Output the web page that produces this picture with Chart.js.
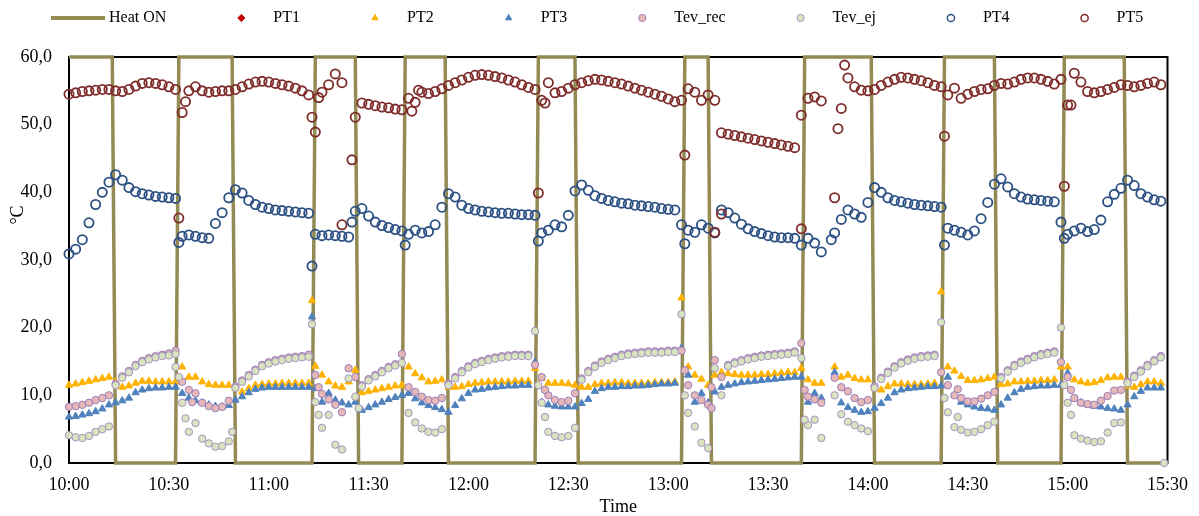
<!DOCTYPE html>
<html>
<head>
<meta charset="utf-8">
<script src="https://cdn.jsdelivr.net/npm/chart.js@4.4.1/dist/chart.umd.min.js"></script>
<style>
  html, body { margin: 0; padding: 0; background: #fff; }
  #wrap { width: 1199px; height: 516px; }
</style>
</head>
<body>
<div id="wrap"><canvas id="chart" width="1199" height="516"></canvas></div>
<script>

// DATA (minutes after 10:00, sampled every 2 min + a few odd readings)

const minutes = [
    0, 2, 4, 6, 8, 10, 12, 14, 16, 18,
    20, 22, 24, 26, 28, 30, 32, 34, 36, 38,
    40, 42, 44, 46, 48, 50, 52, 54, 56, 58,
    60, 62, 64, 66, 68, 70, 72, 74, 76, 78,
    80, 82, 84, 86, 88, 90, 92, 94, 96, 98,
    100, 102, 104, 106, 108, 110, 112, 114, 116, 118,
    120, 122, 124, 126, 128, 130, 132, 134, 136, 138,
    140, 142, 144, 146, 148, 150, 152, 154, 156, 158,
    160, 162, 164, 166, 168, 170, 172, 174, 176, 178,
    180, 182, 184, 186, 188, 190, 192, 194, 196, 198,
    200, 202, 204, 206, 208, 210, 212, 214, 216, 218,
    220, 222, 224, 226, 228, 230, 232, 234, 236, 238,
    240, 242, 244, 246, 248, 250, 252, 254, 256, 258,
    260, 262, 264, 266, 268, 270, 272, 274, 276, 278,
    280, 282, 284, 286, 288, 290, 292, 294, 296, 298,
    300, 302, 304, 306, 308, 310, 312, 314, 316, 318,
    320, 322, 324, 326, 328
];

const timeLabels = ["10:00", "10:30", "11:00", "11:30", "12:00", "12:30",
                    "13:00", "13:30", "14:00", "14:30", "15:00", "15:30"];
const yLabels = ["0,0", "10,0", "20,0", "30,0", "40,0", "50,0", "60,0"];

// heater state (switch times)
const heatT = [0, 13, 14, 32, 33, 49, 50, 73, 74, 86, 87, 100, 101, 113, 114, 140, 141, 152,
               153, 184, 185, 192, 193, 220, 221, 241, 242, 262, 263, 278, 279, 298, 299, 317, 318, 329];
const heatV = [60, 60, 0, 0, 60, 60, 0, 0, 60, 60, 0, 0, 60, 60, 0, 0, 60, 60,
               0, 0, 60, 60, 0, 0, 60, 60, 0, 0, 60, 60, 0, 0, 60, 60, 0, 0];

const pt1 = [];

const pt2 = [
    11.5, 11.7, 11.9, 12.1, 12.3, 12.5, 12.7, 12.0, 11.2, 11.4,
    11.8, 12.1, 12.1, 12.0, 12.0, 12.0, 12.0, 14.2, 12.7, 12.7,
    12.0, 11.6, 11.5, 11.5, 11.5, 11.0, 10.5, 11.0, 11.5, 11.6,
    11.7, 11.7, 11.8, 11.8, 11.8, 11.8, 11.8, 14.3, 13.0, 12.0,
    11.4, 11.2, 12.0, 13.7, 10.4, 10.6, 10.8, 11.0, 11.2, 11.4,
    11.5, 14.2, 13.2, 12.6, 12.0, 12.1, 12.3, 11.2, 11.2, 11.3,
    11.6, 11.8, 11.9, 12.0, 12.0, 12.0, 12.0, 12.1, 12.1, 12.1,
    14.0, 12.5, 11.8, 11.8, 11.8, 11.7, 11.5, 11.2, 11.2, 11.6,
    11.8, 11.8, 11.9, 11.9, 11.8, 11.8, 11.8, 11.8, 11.9, 11.9,
    11.9, 12.0, 24.4, 14.2, 13.0, 12.4, 11.5, 13.0, 13.4, 13.2,
    13.1, 13.0, 13.0, 13.0, 13.1, 13.1, 13.2, 13.3, 13.4, 13.4,
    14.0, 12.3, 11.8, 11.8, null, 14.2, 12.7, 13.0, 12.5, 12.3,
    12.3, 11.0, 10.8, 11.3, 11.7, 11.7, 11.6, 11.6, 11.6, 11.7,
    11.8, 25.3, 14.2, 13.6, 12.8, 12.2, 12.2, 12.3, 12.5, 12.7,
    11.6, 11.7, 12.0, 12.0, 12.1, 12.1, 12.2, 12.2, 12.3, 14.2,
    14.2, 12.3, 12.0, 11.8, 11.9, 12.2, 12.6, 12.7, 12.7, 11.4,
    11.2, 11.6, 12.0, 12.0, 11.8
];
const pt2ExtraT = [73];
const pt2ExtraV = [24.0];

const pt3 = [
    6.8, 6.9, 7.1, 7.3, 7.6, 8.0, 8.6, 8.9, 9.2, 9.6,
    10.4, 10.8, 11.0, 11.1, 11.1, 11.2, 11.2, 10.3, 9.6, 9.2,
    8.9, 8.6, 8.4, 8.3, 8.5, 9.3, 9.8, 10.4, 10.9, 11.1,
    11.2, 11.2, 11.2, 11.2, 11.2, 11.2, 11.2, 11.0, 9.0, 10.3,
    9.3, 8.9, 8.6, 9.0, 7.8, 8.2, 8.6, 9.0, 9.4, 9.7,
    10.0, 10.3, 9.5, 8.9, 8.5, 8.2, 7.9, 7.5, 8.5, 9.5,
    10.3, 10.8, 10.9, 11.1, 11.2, 11.3, 11.4, 11.4, 11.5, 11.5,
    14.9, 9.0, 8.6, 8.4, 8.3, 8.3, 8.3, 8.8, 9.4, 10.6,
    11.0, 11.2, 11.2, 11.3, 11.3, 11.4, 11.4, 11.5, 11.6, 11.7,
    11.7, 11.8, 17.0, 13.0, 9.0, 10.3, 8.9, 10.5, 11.2, 11.5,
    11.7, 11.9, 12.0, 12.1, 12.2, 12.3, 12.4, 12.5, 12.6, 12.7,
    12.7, 9.0, 10.3, 9.6, null, 13.4, 8.9, 8.2, 7.8, 7.5,
    7.6, 8.1, 8.8, 9.6, 10.4, 10.8, 11.0, 11.1, 11.2, 11.3,
    11.3, 11.4, 12.7, 10.0, 9.0, 8.6, 8.3, 8.1, 8.0, 7.8,
    8.6, 9.6, 10.4, 10.9, 11.2, 11.3, 11.4, 11.4, 11.5, 11.5,
    13.3, 9.5, 8.9, 8.6, 8.4, 8.3, 8.1, 8.0, 7.8, 8.6,
    9.8, 10.6, 11.1, 11.1, 11.1
];
const pt3ExtraT = [73];
const pt3ExtraV = [21.6];

const tevRec = [
    8.3, 8.4, 8.6, 8.9, 9.3, 9.6, 10.0, 11.7, 12.8, 13.6,
    14.5, 15.1, 15.5, 15.8, 16.0, 16.2, 16.6, 12.0, 10.8, 10.3,
    8.9, 8.4, 8.1, 8.3, 9.2, 11.3, 12.2, 13.0, 13.8, 14.5,
    14.9, 15.2, 15.4, 15.6, 15.7, 15.8, 16.0, 13.0, 10.2, 9.4,
    8.6, 7.5, 14.0, 12.7, 11.5, 12.4, 13.0, 13.6, 14.2, 14.6,
    16.1, 11.2, 10.5, 9.8, 9.3, 9.2, 9.6, 11.7, 12.7, 13.6,
    14.3, 14.8, 15.1, 15.4, 15.6, 15.8, 15.9, 16.0, 16.0, 16.0,
    14.5, 12.7, 10.0, 9.3, 9.0, 9.2, 10.3, 12.5, 13.6, 14.4,
    15.0, 15.4, 15.7, 16.0, 16.2, 16.3, 16.4, 16.5, 16.5, 16.5,
    16.6, 16.6, 16.6, 11.5, 10.0, 9.3, 8.6, 15.2, 12.7, 14.5,
    14.9, 15.2, 15.5, 15.7, 15.9, 16.0, 16.1, 16.2, 16.3, 16.5,
    17.7, 9.8, 9.4, 8.9, null, 12.6, 11.2, 10.6, 9.6, 9.0,
    9.3, 11.3, 12.6, 13.5, 14.3, 14.9, 15.3, 15.6, 15.8, 15.9,
    16.0, 13.4, 11.5, 10.0, 9.6, 9.1, 9.1, 9.5, 10.0, 10.5,
    12.7, 13.7, 14.5, 15.0, 15.4, 15.8, 16.1, 16.3, 16.5, 14.9,
    12.7, 9.6, 8.9, 8.7, 8.6, 9.2, 9.9, 10.7, 10.8, 12.0,
    12.9, 13.7, 14.5, 15.2, 15.8
];
const tevRecExtraT = [37, 75, 143, 185, 193, 193, 221, 267, 301];
const tevRecExtraV = [9.0, 11.2, 10.8, 13.7, 8.1, 11.2, 10.8, 10.9, 10.8];

const tevEj = [
    4.1, 3.8, 3.7, 4.0, 4.6, 5.0, 5.4, 11.5, 12.6, 13.4,
    14.3, 14.9, 15.3, 15.6, 15.8, 15.9, 16.1, 8.9, 4.6, 5.9,
    3.6, 2.9, 2.4, 2.5, 3.2, 11.1, 12.0, 12.8, 13.6, 14.3,
    14.7, 15.0, 15.2, 15.4, 15.5, 15.6, 15.7, 9.0, 5.2, 7.1,
    2.7, 2.0, 12.5, 9.8, 11.3, 12.2, 12.8, 13.4, 14.0, 14.4,
    14.8, 7.4, 6.0, 5.1, 4.6, 4.5, 5.0, 11.5, 12.5, 13.4,
    14.1, 14.6, 14.9, 15.2, 15.4, 15.6, 15.7, 15.8, 15.8, 15.8,
    19.5, 8.9, 4.6, 4.0, 3.8, 4.0, 5.2, 12.3, 13.4, 14.2,
    14.8, 15.2, 15.5, 15.8, 16.0, 16.1, 16.2, 16.3, 16.3, 16.3,
    16.4, 16.4, 22.0, 7.4, 5.4, 3.0, 2.2, 14.0, 10.0, 14.3,
    14.7, 15.0, 15.3, 15.5, 15.7, 15.8, 15.9, 16.0, 16.1, 16.3,
    15.5, 5.6, 6.4, 3.7, null, 10.0, 7.2, 6.1, 5.6, 5.1,
    4.7, 11.1, 12.4, 13.3, 14.1, 14.7, 15.1, 15.4, 15.6, 15.7,
    15.8, 20.8, 7.5, 5.3, 4.9, 4.5, 4.6, 5.0, 5.6, 6.1,
    12.5, 13.5, 14.3, 14.8, 15.2, 15.6, 15.9, 16.1, 16.3, 20.0,
    8.9, 4.1, 3.6, 3.3, 3.1, 3.2, 4.5, 5.9, 6.0, 11.8,
    12.7, 13.5, 14.3, 15.0, 15.6
];
const tevEjExtraT = [32, 33, 35, 49, 73, 75, 87, 141, 143, 185, 221, 263, 267, 299, 301, 329];
const tevEjExtraV = [14.2, 12.7, 6.6, 4.6, 20.5, 7.1, 8.1, 11.5, 6.8, 10.0, 6.4, 9.6, 6.8, 11.5, 7.1, 0];

const pt4 = [
    30.9, 31.6, 33.0, 35.5, 38.2, 40.0, 41.5, 42.6, 41.8, 40.7,
    40.1, 39.8, 39.6, 39.4, 39.3, 39.2, 39.1, 33.5, 33.7, 33.5,
    33.3, 33.2, 35.4, 37.0, 39.2, 40.4, 39.9, 38.8, 38.2, 37.8,
    37.6, 37.4, 37.3, 37.2, 37.1, 37.0, 36.9, 33.8, 33.6, 33.7,
    33.6, 33.5, 33.4, 37.2, 37.6, 36.5, 35.6, 35.1, 34.8, 34.5,
    34.3, 33.8, 34.4, 34.0, 34.2, 35.2, 37.8, 39.8, 39.3, 38.1,
    37.6, 37.4, 37.2, 37.1, 37.0, 36.9, 36.9, 36.8, 36.7, 36.7,
    36.6, 34.0, 34.4, 35.2, 34.9, 36.6, 40.2, 41.1, 40.3, 39.5,
    39.1, 38.8, 38.6, 38.4, 38.3, 38.1, 38.0, 37.9, 37.8, 37.6,
    37.5, 37.4, 35.2, 34.4, 34.1, 35.2, 34.7, 34.0, 37.4, 37.0,
    36.2, 35.3, 34.6, 34.2, 33.9, 33.6, 33.4, 33.3, 33.3, 33.2,
    32.2, 33.2, 32.5, 31.2, null, 34.0, 36.0, 37.4, 36.8, 36.3,
    38.5, 40.7, 40.0, 39.2, 38.8, 38.6, 38.4, 38.2, 38.1, 38.0,
    37.9, 37.8, 34.7, 34.4, 34.1, 33.7, 34.3, 36.1, 38.5, 41.2,
    42.0, 40.8, 39.8, 39.3, 39.0, 38.9, 38.8, 38.7, 38.6, 35.6,
    33.8, 34.3, 34.7, 34.2, 34.5, 35.9, 38.6, 39.7, 40.6, 41.8,
    41.0, 39.8, 39.3, 38.9, 38.7
];
const pt4ExtraT = [33, 73, 85, 101, 141, 185, 229, 263, 299];
const pt4ExtraV = [32.6, 29.1, 35.6, 32.2, 32.8, 32.4, 33.0, 32.2, 33.2];

const pt5 = [
    54.5, 54.7, 54.9, 55.0, 55.1, 55.2, 55.2, 55.0, 54.9, 55.2,
    55.7, 56.1, 56.2, 56.1, 55.9, 55.6, 55.2, 51.8, 55.0, 55.6,
    55.0, 54.8, 54.9, 55.0, 55.0, 55.2, 55.6, 56.0, 56.3, 56.4,
    56.3, 56.1, 55.9, 55.7, 55.4, 55.0, 54.4, 48.9, 54.8, 55.9,
    57.5, 56.2, null, 51.1, 53.2, 53.0, 52.8, 52.6, 52.5, 52.3,
    52.2, 53.9, 53.3, 54.8, 54.6, 54.9, 55.3, 55.8, 56.2, 56.6,
    57.0, 57.3, 57.4, 57.3, 57.1, 56.9, 56.6, 56.3, 55.9, 55.5,
    55.2, 53.6, 56.2, 54.7, 54.9, 55.4, 55.9, 56.2, 56.5, 56.7,
    56.6, 56.4, 56.2, 56.0, 55.7, 55.4, 55.1, 54.8, 54.5, 54.2,
    53.8, 53.4, 53.6, 55.3, 54.8, 53.6, 54.4, 53.6, 48.8, 48.6,
    48.4, 48.2, 48.0, 47.8, 47.6, 47.4, 47.2, 47.0, 46.8, 46.6,
    51.4, 53.9, 54.1, 53.5, null, 39.2, 52.4, 56.9, 55.6, 55.1,
    55.0, 55.2, 55.8, 56.3, 56.7, 57.0, 56.9, 56.7, 56.5, 56.2,
    55.8, 55.6, 54.4, 55.4, 53.9, 54.5, 54.9, 55.2, 55.3, 55.8,
    56.1, 56.0, 56.3, 56.7, 56.9, 56.9, 56.7, 56.4, 56.0, 56.7,
    52.9, 57.6, 56.3, 54.9, 54.7, 54.9, 55.2, 55.5, 55.9, 55.8,
    55.6, 55.8, 56.1, 56.3, 55.9
];
const pt5ExtraT = [33, 35, 73, 75, 82, 85, 103, 105, 141, 143, 185, 194, 196, 220, 231, 233, 263, 299, 301];
const pt5ExtraV = [36.2, 53.4, 51.1, 54.0, 35.2, 44.8, 52.0, 55.1, 39.9, 53.2, 45.5, 34.1, 36.8, 34.6, 49.4, 58.8, 48.3, 40.9, 52.9];



// HELPERS

const SERIF = "'Liberation Serif', 'Times New Roman', serif";

function toPoints(vals, extraT, extraV) {
    const out = [];
    vals.forEach((v, i) => {
        if (v !== null) out.push({ x: minutes[i], y: v });
    });
    (extraT || []).forEach((t, i) => out.push({ x: t, y: extraV[i] }));
    return out;
}

function markerSet(label, style, radius, fill, border, bw, order, data) {
    return {
        label: label,
        data: data,
        pointStyle: style,
        pointRadius: radius,
        backgroundColor: fill,
        borderColor: border,
        borderWidth: bw,
        showLine: false,
        order: order,
        clip: false
    };
}



// LEGEND ACROSS THE TOP + Y TITLE

const topLegend = {
    id: "topLegend",
    afterDraw(chart) {
        const ctx = chart.ctx;
        const y = 18;
        ctx.save();
        ctx.font = "16px " + SERIF;
        ctx.textBaseline = "middle";
        ctx.textAlign = "left";

        let x = 51;
        chart.data.datasets.forEach((ds, i) => {
            if (i === 0) {
                ctx.strokeStyle = ds.borderColor;
                ctx.lineWidth = 4;
                ctx.beginPath();
                ctx.moveTo(x, y);
                ctx.lineTo(x + 54, y);
                ctx.stroke();
                x += 58;
            } else {
                x += 75;
                ctx.fillStyle = ds.backgroundColor;
                ctx.strokeStyle = ds.borderColor;
                ctx.lineWidth = Math.min(ds.borderWidth, 1.5);
                Chart.helpers.drawPoint(ctx, {
                    pointStyle: ds.pointStyle,
                    radius: 3.6,
                    rotation: 0,
                    borderWidth: ctx.lineWidth
                }, x, y);
                x += 32;
            }
            ctx.fillStyle = "#000";
            ctx.fillText(ds.label, x, y);
            x += ctx.measureText(ds.label).width;
        });

        // y axis title
        ctx.save();
        ctx.translate(18, 215);
        ctx.rotate(-Math.PI / 2);
        ctx.textAlign = "center";
        ctx.font = "18px " + SERIF;
        ctx.fillText("°C", 0, 0);
        ctx.restore();

        ctx.restore();
    }
};

const plotFrame = {
    id: "plotFrame",
    beforeDatasetsDraw(chart) {
        const { ctx, chartArea: a } = chart;
        ctx.save();
        ctx.strokeStyle = "#000";
        ctx.lineWidth = 2;
        ctx.strokeRect(a.left, a.top, a.right - a.left, a.bottom - a.top);
        ctx.restore();
    }
};



// CHART

const heatData = heatT.map((t, i) => ({ x: t, y: heatV[i] }));

new Chart(document.getElementById("chart"), {
    type: "scatter",
    data: {
        datasets: [
            {
                label: "Heat ON",
                data: heatData,
                showLine: true,
                borderColor: "#948A54",
                backgroundColor: "#948A54",
                borderWidth: 3.5,
                pointRadius: 0,
                tension: 0,
                order: 8,
                clip: false
            },
            markerSet("PT1", "rectRot", 4, "#C00000", "#C00000", 1, 7, toPoints(pt1)),
            markerSet("PT2", "triangle", 4.2, "#FFB300", "#FFB300", 1, 6, toPoints(pt2, pt2ExtraT, pt2ExtraV)),
            markerSet("PT3", "triangle", 4.2, "#4F81BD", "#4F81BD", 1, 5, toPoints(pt3, pt3ExtraT, pt3ExtraV)),
            markerSet("Tev_rec", "circle", 3.7, "#E6B9B8", "#9A7DB8", 1, 4, toPoints(tevRec, tevRecExtraT, tevRecExtraV)),
            markerSet("Tev_ej", "circle", 3.7, "#D7E4BD", "#A592C2", 1, 3, toPoints(tevEj, tevEjExtraT, tevEjExtraV)),
            markerSet("PT4", "circle", 4.6, "rgba(0,0,0,0)", "#2C5083", 1.8, 2, toPoints(pt4, pt4ExtraT, pt4ExtraV)),
            markerSet("PT5", "circle", 4.6, "rgba(0,0,0,0)", "#7E2C2A", 1.8, 1, toPoints(pt5, pt5ExtraT, pt5ExtraV))
        ]
    },
    options: {
        responsive: false,
        devicePixelRatio: 1,
        animation: false,
        events: [],
        layout: { padding: { left: 0, right: 31, top: 57, bottom: 0 } },
        plugins: {
            legend: { display: false },
            tooltip: { enabled: false }
        },
        scales: {
            x: {
                type: "linear",
                min: 0,
                max: 330,
                grid: { display: false, drawTicks: false },
                border: { display: false },
                afterFit(scale) { scale.height = 53; },
                ticks: {
                    stepSize: 30,
                    autoSkip: false,
                    maxRotation: 0,
                    padding: 11,
                    color: "#000",
                    font: { family: SERIF, size: 18 },
                    callback: v => timeLabels[Math.round(v / 30)]
                },
                title: {
                    display: true,
                    text: "Time",
                    color: "#000",
                    padding: { top: 0, bottom: -2 },
                    font: { family: SERIF, size: 18 }
                }
            },
            y: {
                min: 0,
                max: 60,
                grid: { display: false, drawTicks: false },
                border: { display: false },
                afterFit(scale) { scale.width = 69; },
                ticks: {
                    stepSize: 10,
                    padding: 17,
                    color: "#000",
                    font: { family: SERIF, size: 18 },
                    callback: v => yLabels[Math.round(v / 10)]
                }
            }
        }
    },
    plugins: [plotFrame, topLegend]
});
</script>
</body>
</html>
